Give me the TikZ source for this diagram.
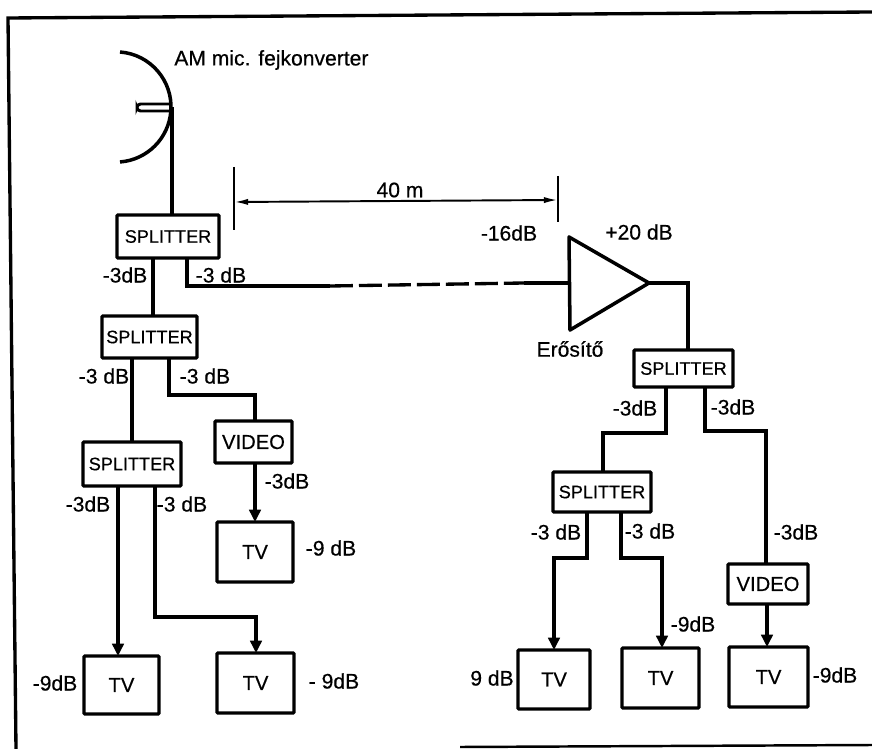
\documentclass[tikz,border=0pt]{standalone}
\usepackage{fontspec}
\setmainfont{Liberation Sans}[FakeBold=0.5]
\usepackage{tikz}
\usetikzlibrary{arrows.meta}
\tikzset{
  box/.style 2 args={draw, line width=1.9pt, inner sep=0pt, outer sep=0pt, rounded corners=0.5pt,
    minimum width=0.02cm*#1, minimum height=0.02cm*#2, font=\fontsize{10.3}{12}\selectfont},
  bigtext/.style={font=\fontsize{11.5}{13}\selectfont},
  wire/.style={line width=1.9pt},
  arrowed/.style={wire, -{Triangle[length=7pt,width=6.5pt]}},
  measure/.style={line width=1.1pt},
  lbl/.style={inner sep=0pt, font=\fontsize{12}{14}\selectfont}
}
\begin{document}
\begin{tikzpicture}[x=0.02cm, y=-0.02cm]
        \useasboundingbox (0,0) rectangle (872,749);
        % keret
        \draw[line width=1.9pt] (16,749) -- (8,18) -- (872,12);
        \draw[line width=1.4pt] (460,747) -- (872,745);
        % antenna
        \draw[line width=2pt] (120,52) arc[start angle=85.7, end angle=-85.7, radius=1.103cm];
        \draw[line width=1.7pt, rounded corners=2pt] (170,104) -- (137,104) -- (137,111) -- (170,111);
        \coordinate (D) at (172,107);
        \node[lbl, anchor=west] (cim) at (174,60) {AM mic. fejkonverter};
        % bal oldali doboz
        \node[box={102}{43}] (S1) at (168,236.5) {SPLITTER};
        \node[box={95}{42}] (S2) at (149.5,337) {SPLITTER};
        \node[box={98}{44}] (S3) at (132,464) {SPLITTER};
        \node[box={77}{42}, bigtext] (V1) at (253.5,442) {VIDEO};
        \node[box={76}{60}, bigtext] (T1) at (255,552) {TV};
        \node[box={75}{58}, bigtext] (T2) at (121.5,685) {TV};
        \node[box={77}{60}, bigtext] (T3) at (255.5,683) {TV};
        % jobb oldali doboz
        \node[box={99}{37}] (S4) at (683.5,368.5) {SPLITTER};
        \node[box={98}{40}] (S5) at (602,492) {SPLITTER};
        \node[box={80}{40}, bigtext] (V2) at (768,584) {VIDEO};
        \node[box={72}{59}, bigtext] (T4) at (554,679.5) {TV};
        \node[box={77}{60}, bigtext] (T5) at (660.5,678) {TV};
        \node[box={79}{60}, bigtext] (T6) at (768.5,677) {TV};
        % erosito
        \coordinate (A1) at (569,237);
        \coordinate (A2) at (649,283);
        \coordinate (A3) at (570,330);
        \coordinate (A4) at (569,283);
        \draw[line width=2pt, line join=round] (A1) -- (A2) -- (A3) -- cycle;
        % vezetekek bal oldalon
        \coordinate (K1) at (172,0);
        \draw[wire] (D) -- (K1 |- S1.north);
        \coordinate (K2) at (153,0);
        \draw[wire] (K2 |- S1.south) -- (K2 |- S2.north);
        \coordinate (K3) at (187,286);
        \coordinate (K4) at (330,286);
        \coordinate (K5) at (524,283);
        \draw[wire] (K3 |- S1.south) -- (K3) -- (K4);
        \draw[wire, dash pattern=on 13pt off 3.5pt] (K4) -- (K5);
        \draw[wire] (K5) -- (A4);
        \coordinate (K6) at (132,0);
        \draw[wire] (K6 |- S2.south) -- (K6 |- S3.north);
        \coordinate (K7) at (169,395);
        \coordinate (K8) at (255,395);
        \draw[wire] (K7 |- S2.south) -- (K7) -- (K8) -- (K8 |- V1.north);
        \draw[arrowed] (K8 |- V1.south) -- (K8 |- T1.north);
        \coordinate (K9) at (118,0);
        \draw[arrowed] (K9 |- S3.south) -- (K9 |- T2.north);
        \coordinate (K10) at (155,617);
        \coordinate (K11) at (256,617);
        \draw[arrowed] (K10 |- S3.south) -- (K10) -- (K11) -- (K11 |- T3.north);
        % vezetekek jobb oldalon
        \coordinate (K12) at (688,283);
        \draw[wire] (A2) -- (K12) -- (K12 |- S4.north);
        \coordinate (K13) at (666,433);
        \coordinate (K14) at (603,433);
        \draw[wire] (K13 |- S4.south) -- (K13) -- (K14) -- (K14 |- S5.north);
        \coordinate (K15) at (705,431);
        \coordinate (K16) at (766,431);
        \draw[wire] (K15 |- S4.south) -- (K15) -- (K16) -- (K16 |- V2.north);
        \coordinate (K17) at (587,558);
        \coordinate (K18) at (554,558);
        \draw[arrowed] (K17 |- S5.south) -- (K17) -- (K18) -- (K18 |- T4.north);
        \coordinate (K19) at (621,558);
        \coordinate (K20) at (662,558);
        \draw[arrowed] (K19 |- S5.south) -- (K19) -- (K20) -- (K20 |- T5.north);
        \coordinate (K21) at (767,0);
        \draw[arrowed] (K21 |- V2.south) -- (K21 |- T6.north);
        % tavolsag
        \coordinate (M1) at (234,167);
        \coordinate (M2) at (234,230);
        \coordinate (M3) at (558,176);
        \coordinate (M4) at (558,222);
        \coordinate (M5) at (234,202);
        \coordinate (M6) at (558,200);
        \draw[measure] (M1) -- (M2);
        \draw[measure] (M3) -- (M4);
        \draw[measure, {Latex[length=8pt,width=3.5pt]}-{Latex[length=8pt,width=3.5pt]}] (M5) -- (M6);
        \node[lbl] (tav) at (400,190) {40 m};
        % feliratok
        \node[lbl] (L1) at (125,275) {-3dB};
        \node[lbl] (L2) at (221,275) {-3 dB};
        \node[lbl] (L3) at (104,376) {-3 dB};
        \node[lbl] (L4) at (205,376) {-3 dB};
        \node[lbl] (L5) at (88,504) {-3dB};
        \node[lbl] (L6) at (182,504) {-3 dB};
        \node[lbl] (L7) at (287,481) {-3dB};
        \node[lbl] (L8) at (331,548) {-9 dB};
        \node[lbl] (L9) at (55,683) {-9dB};
        \node[lbl] (L10) at (334,681) {- 9dB};
        \node[lbl] (L11) at (509,233) {-16dB};
        \node[lbl] (L12) at (639,232) {+20 dB};
        \node[lbl] (L13) at (570,349) {Erősítő};
        \node[lbl] (L14) at (635,408) {-3dB};
        \node[lbl] (L15) at (733,407) {-3dB};
        \node[lbl] (L16) at (556,532) {-3 dB};
        \node[lbl] (L17) at (650,531) {-3 dB};
        \node[lbl] (L18) at (796,532) {-3dB};
        \node[lbl] (L19) at (693,624) {-9dB};
        \node[lbl] (L20) at (492,678) {9 dB};
        \node[lbl] (L21) at (835,675) {-9dB};
\end{tikzpicture}
\end{document}
